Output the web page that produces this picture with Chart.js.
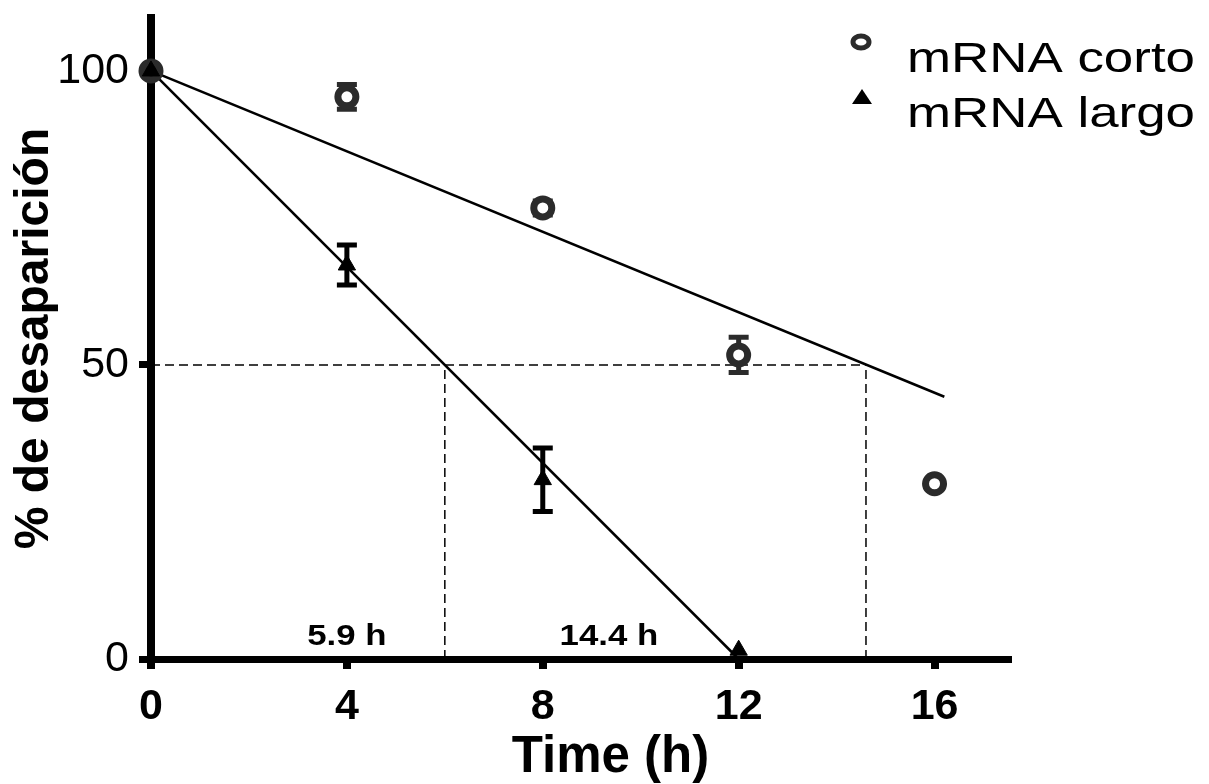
<!DOCTYPE html>
<html lang="es">
<head>
<meta charset="UTF-8">
<title>% de desaparición</title>
<style>
  body { margin: 0; background: #fff; }
  canvas { display: block; }
</style>
</head>
<body>
<canvas id="decayChart" width="1209" height="784"></canvas>
<script src="https://cdn.jsdelivr.net/npm/chart.js"></script>
<script>
// horas
const timeCorto = [0, 4, 8, 12, 16];
const mrnaCorto = [100, 95.6, 76.7, 51.7, 29.8];
const errCorto = [0, 2.1, 1.2, 3.0, 0];

const timeLargo = [0, 4, 8, 12];
const mrnaLargo = [100, 67, 30.5, 1.5];
const errLargo = [0, 3.4, 5.4, 0];

// rectas de ajuste
const fitCortoX = [0, 16.2];
const fitCortoY = [100, 44.6];
const fitLargoX = [0, 12];
const fitLargoY = [100, 0];

// vida media (t1/2)
const halfLargo = 6.0;
const halfCorto = 14.6;
const halfLabels = ['5.9 h', '14.4 h'];
const halfLabelX = [4, 9.35];
const halfLabelY = [2.4, 2.4];

const xTicks = [0, 4, 8, 12, 16];
const yTicks = [0, 50, 100];
const seriesNames = ['mRNA corto', 'mRNA largo'];

const FONT = '"Liberation Sans", Arial, sans-serif';
const grayDark = '#2b2b2b';

function pts(xs, ys) { return xs.map((x, i) => ({ x: x, y: ys[i] })); }

const extras = {
    id: 'extras',
    beforeDatasetsDraw(chart) {
        const ctx = chart.ctx, xs = chart.scales.x, ys = chart.scales.y;
        function bars(tx, vals, errs, color) {
            ctx.save();
            ctx.strokeStyle = color;
            ctx.lineWidth = 5;
            for (let i = 0; i < tx.length; i++) {
                if (!errs[i]) continue;
                const px = xs.getPixelForValue(tx[i]);
                const top = ys.getPixelForValue(vals[i] + errs[i]);
                const bot = ys.getPixelForValue(vals[i] - errs[i]);
                ctx.beginPath();
                ctx.moveTo(px, top); ctx.lineTo(px, bot);
                ctx.moveTo(px - 10, top); ctx.lineTo(px + 10, top);
                ctx.moveTo(px - 10, bot); ctx.lineTo(px + 10, bot);
                ctx.stroke();
            }
            ctx.restore();
        }
        bars(timeCorto, mrnaCorto, errCorto, grayDark);
        bars(timeLargo, mrnaLargo, errLargo, '#000');
    },
    afterDraw(chart) {
        const ctx = chart.ctx, xs = chart.scales.x, ys = chart.scales.y, ca = chart.chartArea;
        ctx.save();
        ctx.fillStyle = '#000';

        // etiquetas t1/2
        ctx.font = 'bold 29px ' + FONT;
        ctx.textBaseline = 'alphabetic';
        ctx.textAlign = 'center';
        halfLabels.forEach((t, i) => {
            ctx.save();
            ctx.translate(xs.getPixelForValue(halfLabelX[i]), ys.getPixelForValue(halfLabelY[i]));
            ctx.scale(1.2, 1);
            ctx.fillText(t, 0, 0);
            ctx.restore();
        });

        // título eje x
        ctx.font = 'bold 51px ' + FONT;
        ctx.textAlign = 'center';
        ctx.fillText('Time (h)', (ca.left + ca.right) / 2 + 31, 772);

        // leyenda
        ctx.font = '42px ' + FONT;
        ctx.textAlign = 'left';
        seriesNames.forEach((t, i) => {
            const base = i === 0 ? 72 : 127;
            const w = ctx.measureText(t).width;
            ctx.save();
            ctx.translate(907, base);
            ctx.scale(288 / w, 1);
            ctx.fillText(t, 0, 0);
            ctx.restore();
        });
        // marcador círculo
        ctx.beginPath();
        ctx.ellipse(861, 42, 8, 6, 0, 0, Math.PI * 2);
        ctx.lineWidth = 5;
        ctx.strokeStyle = grayDark;
        ctx.stroke();
        // marcador triángulo
        ctx.beginPath();
        ctx.moveTo(862, 89);
        ctx.lineTo(872, 104);
        ctx.lineTo(852, 104);
        ctx.closePath();
        ctx.fill();
        ctx.restore();
    }
};

const dashed = { borderColor: '#000', borderWidth: 1.5, borderDash: [9, 5], showLine: true, pointRadius: 0, fill: false, order: 5 };

new Chart(document.getElementById('decayChart'), {
    type: 'scatter',
    data: {
        datasets: [
            Object.assign({ label: 'h50', data: pts([0, halfCorto], [50, 50]) }, dashed),
            Object.assign({ label: 'v1', data: pts([halfLargo, halfLargo], [0, 50]) }, dashed),
            Object.assign({ label: 'v2', data: pts([halfCorto, halfCorto], [0, 50]) }, dashed),
            { label: 'ajuste corto', data: pts(fitCortoX, fitCortoY), showLine: true, borderColor: '#000', borderWidth: 2.5, pointRadius: 0, order: 4 },
            { label: 'ajuste largo', data: pts(fitLargoX, fitLargoY), showLine: true, borderColor: '#000', borderWidth: 2.5, pointRadius: 0, order: 4 },
            {
                label: seriesNames[0], data: pts(timeCorto, mrnaCorto), showLine: false,
                pointStyle: 'circle', pointRadius: 9, pointBorderWidth: 7,
                pointBorderColor: grayDark,
                pointBackgroundColor: c => c.dataIndex === 0 ? '#111' : '#fff',
                order: 2
            },
            {
                label: seriesNames[1], data: pts(timeLargo, mrnaLargo), showLine: false,
                pointStyle: 'triangle', pointRadius: 10, pointBorderWidth: 1,
                pointBorderColor: '#000', pointBackgroundColor: '#000',
                order: 1
            }
        ]
    },
    options: {
        responsive: false,
        animation: false,
        clip: false,
        layout: { padding: { top: 18, right: 201, bottom: 0, left: 0 } },
        plugins: { legend: { display: false }, tooltip: { enabled: false } },
        scales: {
            x: {
                type: 'linear', min: 0, max: 17.5,
                afterBuildTicks: s => { s.ticks = xTicks.map(v => ({ value: v })); },
                afterFit: s => { s.height = 125; },
                ticks: { color: '#000', font: { family: FONT, size: 43, weight: 'bold' }, padding: 12, maxRotation: 0 },
                grid: { drawOnChartArea: false, drawTicks: true, tickLength: 10, tickWidth: 8, tickColor: '#000', lineWidth: 8 },
                border: { display: true, width: 7, color: '#000' }
            },
            y: {
                type: 'linear', min: 0, max: 109,
                afterBuildTicks: s => { s.ticks = yTicks.map(v => ({ value: v })); },
                afterFit: s => { s.width = 151; s.paddingTop = 0; s.paddingBottom = 0; },
                ticks: { color: '#000', font: { family: FONT, size: 43 }, padding: 10 },
                grid: { drawOnChartArea: false, drawTicks: true, tickLength: 12, tickWidth: 7, tickColor: '#000', lineWidth: 7 },
                border: { display: true, width: 8, color: '#000' },
                title: { display: true, text: '% de desaparición', color: '#000', font: { family: FONT, size: 48, weight: 'bold' }, padding: { top: 6, bottom: 0 } }
            }
        }
    },
    plugins: [extras]
});
</script>
</body>
</html>
